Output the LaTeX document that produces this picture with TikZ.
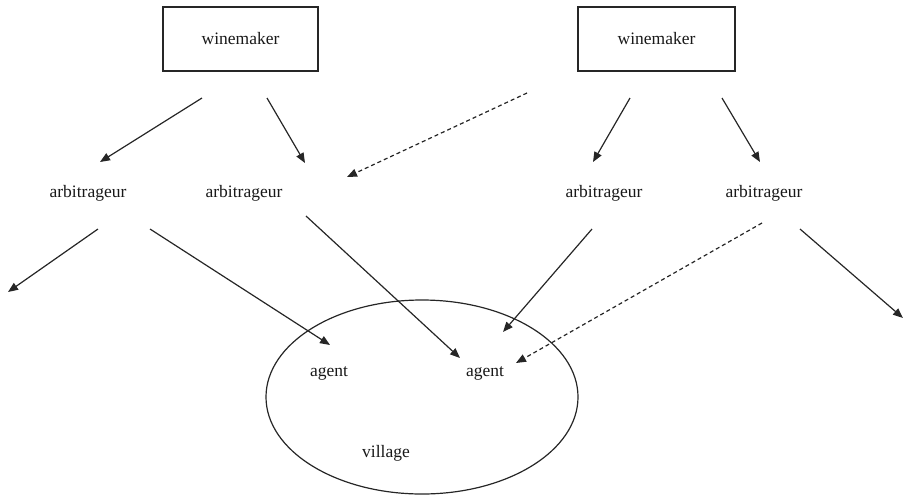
\documentclass[tikz,border=0pt]{standalone}
\usepackage{fontspec}
\setmainfont{Liberation Serif}
\usetikzlibrary{arrows.meta}
\begin{document}
\begin{tikzpicture}[x=1pt,y=-1pt,
  lbl/.style={inner sep=0pt,font=\fontsize{17.5}{20}\selectfont,text=black!90},
  boxnode/.style={draw=black!85,line width=1.3pt,minimum width=155pt,minimum height=64pt,inner sep=0pt,font=\fontsize{17.5}{20}\selectfont,text=black!90},
  arr/.style={draw=black!85,line width=1.2pt,-{Triangle[length=10pt,width=8pt]}},
  darr/.style={arr,dash pattern=on 4pt off 3pt}]
\useasboundingbox (0,0) rectangle (906,499);
% boxes
\node[boxnode] (w1) at (240.5,39) {winemaker};
\node[boxnode,minimum width=157pt] (w2) at (656.5,39) {winemaker};
% labels
\node[lbl] (a1) at (88,193) {arbitrageur};
\node[lbl] (a2) at (244,193) {arbitrageur};
\node[lbl] (a3) at (604,193) {arbitrageur};
\node[lbl] (a4) at (764,193) {arbitrageur};
\node[lbl] (g1) at (329,373) {agent};
\node[lbl] (g2) at (485,373) {agent};
\node[lbl] (v) at (386,453) {village};
% village ellipse
\draw[line width=1.2pt,draw=black!85] (422,397) ellipse [x radius=156, y radius=97];
% endpoints
\coordinate (w1l) at (202,98);
\coordinate (w1r) at (267,98);
\coordinate (w2d) at (527,93);
\coordinate (w2l) at (630,98);
\coordinate (w2r) at (722,98);
\coordinate (a1in) at (100,162);
\coordinate (a2in) at (305,163);
\coordinate (a2din) at (347,177);
\coordinate (a3in) at (593,162);
\coordinate (a4in) at (760,162);
\coordinate (a1l) at (98,229);
\coordinate (a1r) at (150,229);
\coordinate (a2o) at (306,216);
\coordinate (a3o) at (592,229);
\coordinate (a4d) at (762,223);
\coordinate (a4r) at (800,229);
\coordinate (outl) at (8,292);
\coordinate (outr) at (903,318);
\coordinate (g1in) at (330,345);
\coordinate (g2in) at (460,358);
\coordinate (g2in3) at (503,332);
\coordinate (g2din) at (516,363);
% arrows
\draw[arr] (w1l) -- (a1in);
\draw[arr] (w1r) -- (a2in);
\draw[darr] (w2d) -- (a2din);
\draw[arr] (w2l) -- (a3in);
\draw[arr] (w2r) -- (a4in);
\draw[arr] (a1l) -- (outl);
\draw[arr] (a1r) -- (g1in);
\draw[arr] (a2o) -- (g2in);
\draw[arr] (a3o) -- (g2in3);
\draw[darr] (a4d) -- (g2din);
\draw[arr] (a4r) -- (outr);
\end{tikzpicture}
\end{document}
